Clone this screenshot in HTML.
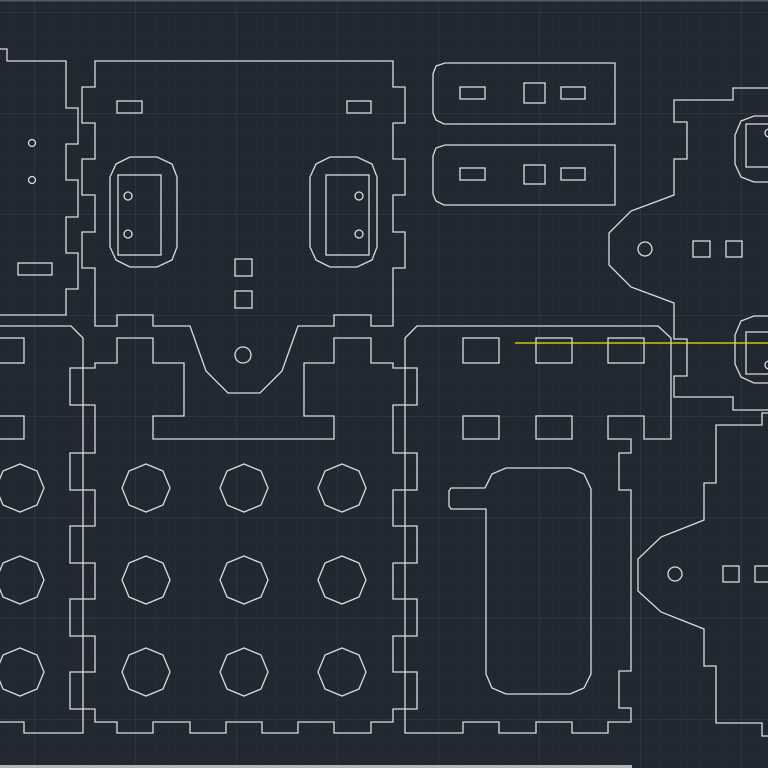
<!DOCTYPE html>
<html><head><meta charset="utf-8"><style>html,body{margin:0;padding:0;background:#222831;}svg{display:block}</style></head>
<body>
<svg width="768" height="768" viewBox="0 0 768 768" xmlns="http://www.w3.org/2000/svg">
<defs>
<pattern id="minor" x="-6.4" y="-8" width="20.2" height="20.2" patternUnits="userSpaceOnUse">
<path d="M0 0V20.2M0 0H20.2" stroke="#29303a" stroke-width="1" fill="none"/>
</pattern>
<pattern id="major" x="34" y="12" width="101" height="101" patternUnits="userSpaceOnUse">
<path d="M0 0V101M0 0H101" stroke="#363e4c" stroke-width="1" fill="none"/>
</pattern>
<polygon id="oct" points="0,-24 17,-17 24,0 17,17 0,24 -17,17 -24,0 -17,-17"/>
</defs>
<rect width="768" height="768" fill="#222831"/>
<rect width="768" height="768" fill="url(#minor)"/>
<rect width="768" height="768" fill="url(#major)"/>
<rect x="0" y="0" width="768" height="1.5" fill="#5a5a5a"/>
<rect x="0" y="765" width="632" height="3" fill="#b4b4b4"/>

<g fill="none" stroke="#dcdcdc" stroke-width="1.3">
<!-- left partial piece -->
<path d="M0 49H7V61H66V108H78V144H66V180H78V217H66V253H78V289H66V315H0"/>
<circle cx="32" cy="143" r="3.5"/><circle cx="32" cy="180" r="3.5"/>
<rect x="18" y="263" width="34" height="12"/>

<!-- top center piece -->
<path d="M95 61H393V87H405V123H393V159H405V195H393V232H405V268H393V326H371V315H334V326H298L282 371L260 393H228L206 371L190 326H153V315H117V326H95V268H82V232H95V195H82V159H95V123H82V87H95Z"/>
<rect x="117" y="101" width="25" height="12"/><rect x="347" y="101" width="24" height="12"/>
<polygon points="130,157 157,157 172,164 177,177 177,247 172,260 157,267 130,267 116,260 110,247 110,177 116,164"/>
<rect x="118" y="175" width="43" height="80"/>
<circle cx="128" cy="196" r="4"/><circle cx="128" cy="234" r="4"/>
<polygon points="330,157 357,157 372,164 377,177 377,247 372,260 357,267 330,267 316,260 310,247 310,177 316,164"/>
<rect x="326" y="175" width="43" height="80"/>
<circle cx="359" cy="196" r="4"/><circle cx="359" cy="234" r="4"/>
<rect x="235" y="259" width="17" height="17"/><rect x="235" y="291" width="17" height="17"/>
<circle cx="243" cy="355" r="8"/>

<!-- lower left partial -->
<path d="M0 326H71L83 338V733H24V722H0"/>
<rect x="-2" y="338" width="26" height="25"/><rect x="-2" y="416" width="26" height="23"/>
<use href="#oct" x="20" y="488"/><use href="#oct" x="20" y="580"/><use href="#oct" x="20" y="672"/>

<!-- center bottom piece -->
<path d="M117 338H153V363H184V416H153V439H334V416H304V363H334V338H371V363H393V368H417V405H393V453H417V490H393V526H417V563H393V599H417V636H393V672H417V709H393V722H371V733H334V722H298V733H262V722H226V733H190V722H153V733H117V722H95V709H70V672H95V636H70V599H95V563H70V526H95V490H70V453H95V405H70V368H95V363H117Z"/>
<use href="#oct" x="146" y="488"/><use href="#oct" x="244" y="488"/><use href="#oct" x="342" y="488"/>
<use href="#oct" x="146" y="580"/><use href="#oct" x="244" y="580"/><use href="#oct" x="342" y="580"/>
<use href="#oct" x="146" y="672"/><use href="#oct" x="244" y="672"/><use href="#oct" x="342" y="672"/>

<!-- right-of-center piece -->
<path d="M417 326H658L671 338V439H644V416H608V439H631V453H619V490H631V671H619V708H631V722H608V733H572V722H536V733H499V722H463V733H405V338Z"/>
<rect x="463" y="338" width="36" height="25"/><rect x="536" y="338" width="36" height="25"/><rect x="608" y="338" width="36" height="25"/>
<rect x="463" y="416" width="36" height="23"/><rect x="536" y="416" width="36" height="23"/>
<path d="M485 488L492 474L506 468H570L584 474L591 489V674L584 688L570 694H506L492 688L486 674V509H451L449 506V491L451 488Z"/>

<!-- top right rounded rects -->
<path d="M445 63H615V124H444L436 120L433 113V74L436 66Z"/>
<rect x="460" y="87" width="25" height="12"/><rect x="524" y="83" width="21" height="20"/><rect x="561" y="87" width="24" height="12"/>
<path d="M445 145H615V205H444L436 201L433 194V156L436 148Z"/>
<rect x="460" y="168" width="25" height="12"/><rect x="524" y="165" width="21" height="19"/><rect x="561" y="168" width="24" height="12"/>

<!-- right top piece -->
<path d="M768 88H733V100H674V122H687V159H674V195L631 211L609 233V265L631 287L674 303V339H687V376H674V397H733V410H768"/>
<circle cx="645" cy="249" r="7"/>
<rect x="693" y="241" width="17" height="16"/><rect x="726" y="241" width="16" height="16"/>
<path d="M770 116H754L741 121L735 135V164L741 177L754 182H770"/>
<path d="M770 124H746V167H770"/>
<circle cx="769" cy="133" r="4"/>
<path d="M770 316H754L741 321L735 335V364L741 377L754 383H770"/>
<path d="M770 332H746V374H770"/>
<circle cx="769" cy="365" r="4"/>

<!-- bottom right piece -->
<path d="M770 413H762V425H716V483H704V520L661 537L638 559V591L661 612L704 629V666H716V723H762V736H770"/>
<circle cx="675" cy="574" r="7"/>
<rect x="723" y="566" width="16" height="16"/><rect x="755" y="566" width="16" height="16"/>
</g>
<line x1="515" y1="343" x2="768" y2="343" stroke="#e8e800" stroke-width="1.2"/>
</svg>
</body></html>
